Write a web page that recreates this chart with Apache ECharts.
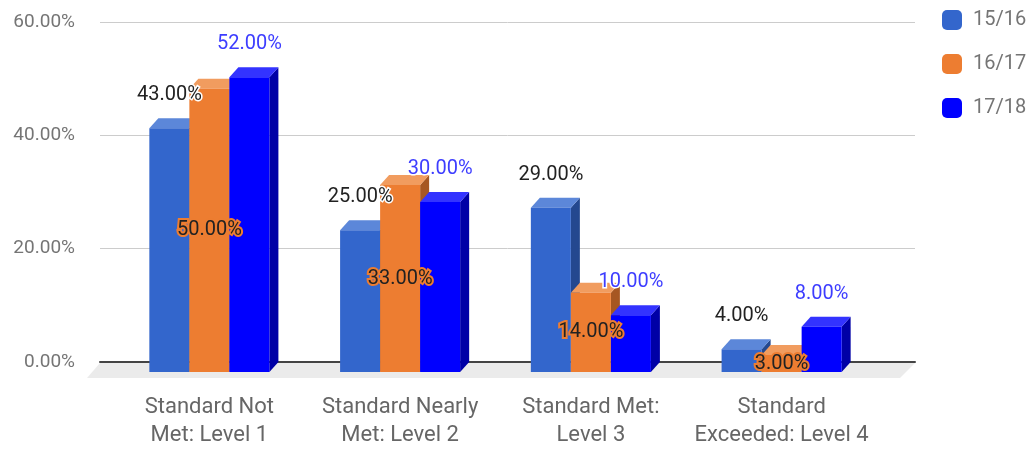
<!DOCTYPE html>
<html>
<head>
<meta charset="utf-8">
<script src="https://cdn.jsdelivr.net/npm/echarts@6/dist/echarts.min.js"></script>
<style>
html,body{margin:0;padding:0;background:#fff;}
#chart{width:1032px;height:450px;}
</style>
</head>
<body>
<div id="chart"></div>
<script>
var categories = ['Standard Not\nMet: Level 1', 'Standard Nearly\nMet: Level 2', 'Standard Met:\nLevel 3', 'Standard\nExceeded: Level 4'];
var seriesNames = ['15/16', '16/17', '17/18'];
var values1516 = [43, 25, 29, 4];
var values1617 = [50, 33, 14, 3];
var values1718 = [52, 30, 10, 8];
var yTicks = [0, 20, 40, 60];

var palette = [
  {front: '#3366cc', top: '#5c87d9', side: '#24488f'},
  {front: '#ed7d31', top: '#f19c5f', side: '#a65722'},
  {front: '#0000ff', top: '#3333ff', side: '#0000a6'}
];
var DX = 9, DY = -10;
var FONT = 'Roboto';

function fmt(v){ return v.toFixed(2) + '%'; }

function makeRender(si) {
  var c = palette[si];
  return function (params, api) {
    var cat = api.value(0), v = api.value(1);
    var base = api.coord([cat, 0]);
    var top = api.coord([cat, v]);
    var band = api.size([1, 0])[0];
    var bw = band * 0.2098;
    var x0 = base[0] + (si - 1) * bw - bw / 2;
    var x1 = x0 + bw;
    var yb = base[1], yt = top[1];
    var children = [
      {type: 'polygon', z2: si * 3, shape: {points: [[x1, yt], [x1 + DX, yt + DY], [x1 + DX, yb + DY], [x1, yb]]}, style: {fill: c.side}},
      {type: 'polygon', z2: si * 3 + 1, shape: {points: [[x0, yt], [x1, yt], [x1 + DX, yt + DY], [x0 + DX, yt + DY]]}, style: {fill: c.top}},
      {type: 'rect', z2: si * 3 + 2, shape: {x: x0, y: yt, width: bw, height: yb - yt}, style: {fill: c.front}}
    ];
    var cx = (x0 + x1) / 2;
    var label;
    if (si === 1) {
      label = {type: 'text', z2: 100, x: cx, y: (yt + yb) / 2,
        style: {text: fmt(v), fill: '#222', stroke: '#ed7d31', lineWidth: 4, font: '20px ' + FONT, textAlign: 'center', textVerticalAlign: 'middle'}};
    } else {
      label = {type: 'text', z2: 100, x: cx, y: yt - 33,
        style: {text: fmt(v), fill: si === 0 ? '#222' : '#3d3dff', stroke: '#fff', lineWidth: 3, font: '20px ' + FONT, textAlign: 'center', textVerticalAlign: 'middle'}};
    }
    children.push(label);
    return {type: 'group', children: children};
  };
}

function toData(arr){ return arr.map(function(v, i){ return [i, v]; }); }
var allValues = [values1516, values1617, values1718];

var chart = echarts.init(document.getElementById('chart'), null, {renderer: 'canvas'});

var series = [{
  type: 'custom',
  name: 'floor',
  xAxisIndex: 0, yAxisIndex: 0,
  z: 1,
  silent: true,
  data: [[0, 0]],
  renderItem: function (params, api) {
    var cs = params.coordSys;
    var x = cs.x, w = cs.width, yb = cs.y + cs.height;
    return {type: 'polygon', shape: {points: [[x, yb + 1], [x + w, yb + 1], [x + w - 15, yb + 16], [x - 13, yb + 16]]}, style: {fill: '#ebebeb'}};
  }
}];
seriesNames.forEach(function (n, si) {
  series.push({
    type: 'custom',
    name: n,
    xAxisIndex: 1, yAxisIndex: 1,
    z: 2,
    itemStyle: {color: palette[si].front},
    data: toData(allValues[si]),
    renderItem: makeRender(si)
  });
});

chart.setOption({
  animation: false,
  backgroundColor: '#fff',
  legend: {
    data: seriesNames,
    orient: 'vertical',
    left: 937, top: 5,
    itemWidth: 20, itemHeight: 20, itemGap: 24,
    icon: 'roundRect',
    textStyle: {fontFamily: FONT, fontSize: 20, color: '#757575', lineHeight: 20, padding: [0, 0, 0, 6]}
  },
  grid: [
    {left: 100, right: 117, top: 22, bottom: 88},
    {left: 114, right: 155, top: 32, bottom: 78}
  ],
  xAxis: [
    {type: 'category', gridIndex: 0, data: categories, axisTick: {show: false}, axisLabel: {show: false},
     axisLine: {show: true, lineStyle: {color: '#444', width: 2}}},
    {type: 'category', gridIndex: 1, data: categories, axisTick: {show: false}, axisLine: {show: false},
     axisLabel: {show: true, fontFamily: FONT, fontSize: 22, color: '#666', lineHeight: 28, margin: 21, interval: 0}}
  ],
  yAxis: [
    {type: 'value', gridIndex: 0, min: yTicks[0], max: yTicks[yTicks.length - 1], interval: 20,
     axisLine: {show: false}, axisTick: {show: false},
     splitLine: {lineStyle: {color: '#cccccc', width: 1}},
     axisLabel: {formatter: function (v) { return fmt(v); }, fontFamily: FONT, fontSize: 19, color: '#757575', margin: 25}},
    {type: 'value', gridIndex: 1, min: yTicks[0], max: yTicks[yTicks.length - 1], interval: 20, show: false}
  ],
  series: series
});
</script>
</body>
</html>
